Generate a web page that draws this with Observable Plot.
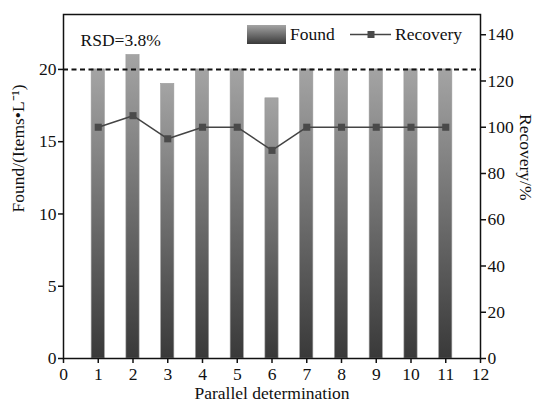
<!DOCTYPE html>
<html>
<head>
<meta charset="utf-8">
<script src="https://cdn.jsdelivr.net/npm/d3@7"></script>
<script src="https://cdn.jsdelivr.net/npm/@observablehq/plot@0.6"></script>
<style>
  html, body { margin: 0; padding: 0; background: #fff; }
  #chart svg { display: block; }
</style>
</head>
<body>
<div id="chart"></div>
<script>
const determinations = [1, 2, 3, 4, 5, 6, 7, 8, 9, 10, 11];
const found = [20, 21, 19, 20, 20, 18, 20, 20, 20, 20, 20];
const recovery = [100, 105, 95, 100, 100, 90, 100, 100, 100, 100, 100];
const xTicks = [0, 1, 2, 3, 4, 5, 6, 7, 8, 9, 10, 11, 12];
const leftTicks = [0, 5, 10, 15, 20];
const rightTicks = [0, 20, 40, 60, 80, 100, 120, 140];
const referenceLevel = [20];
const ratio = 6.25; // recovery % per Found unit on the shared vertical scale

const rows = determinations.map((d, i) => ({ d, found: found[i], recovery: recovery[i] }));
const half = 0.19;
const FS = 17.5;

const defs = () => {
  const g = d3.create("svg:defs");
  const lg = g.append("linearGradient").attr("id", "barGrad")
    .attr("x1", 0).attr("y1", 0).attr("x2", 0).attr("y2", 1);
  lg.append("stop").attr("offset", "0%").attr("stop-color", "#a4a4a4");
  lg.append("stop").attr("offset", "100%").attr("stop-color", "#393939");
  return g.node();
};

const legend = (index, scales, values, dimensions) => {
  const g = d3.create("svg:g").attr("font-family", "Liberation Serif").attr("font-size", FS)
    .attr("text-anchor", "start").attr("fill", "#111");
  const x0 = dimensions.marginLeft + 184, y0 = dimensions.marginTop + 11;
  g.append("rect").attr("x", x0).attr("y", y0).attr("width", 39).attr("height", 19)
    .attr("fill", "url(#barGrad)");
  g.append("text").attr("x", x0 + 43).attr("y", y0 + 15).text("Found");
  g.append("line").attr("x1", x0 + 103).attr("x2", x0 + 144).attr("y1", y0 + 9.5).attr("y2", y0 + 9.5)
    .attr("stroke", "#444").attr("stroke-width", 1.5);
  g.append("rect").attr("x", x0 + 120.5).attr("y", y0 + 6).attr("width", 7).attr("height", 7)
    .attr("fill", "#4a4a4a");
  g.append("text").attr("x", x0 + 148).attr("y", y0 + 15).text("Recovery");
  return g.node();
};

const chart = Plot.plot({
  width: 538,
  height: 401,
  marginLeft: 63,
  marginRight: 58,
  marginTop: 14,
  marginBottom: 43,
  style: { fontFamily: "Liberation Serif", fontSize: FS + "px", color: "#111", background: "#fff" },
  x: { domain: [0, 12] },
  y: { domain: [0, 23.8] },
  marks: [
    defs,
    Plot.rectY(rows, {
      x1: d => d.d - half, x2: d => d.d + half, y1: 0, y2: "found",
      fill: "url(#barGrad)", stroke: "#9a9a9a", strokeWidth: 0.6
    }),
    Plot.ruleY(referenceLevel, { stroke: "#111", strokeWidth: 2, strokeDasharray: "5,3.5" }),
    Plot.line(rows, { x: "d", y: d => d.recovery / ratio, stroke: "#444", strokeWidth: 1.5 }),
    Plot.dot(rows, { x: "d", y: d => d.recovery / ratio, symbol: "square", r: 4, fill: "#4a4a4a" }),
    Plot.axisX({ ticks: xTicks, tickSize: 5, tickPadding: 4, label: null, strokeWidth: 1.5, fontSize: FS }),
    Plot.axisY({ ticks: leftTicks, tickSize: 5, tickPadding: 2, label: null, strokeWidth: 1.5, fontSize: FS }),
    Plot.axisY({
      anchor: "right", ticks: rightTicks.map(v => v / ratio), tickSize: 5, tickPadding: 2,
      tickFormat: v => String(Math.round(v * ratio)), label: null, strokeWidth: 1.5, fontSize: FS
    }),
    Plot.frame({ stroke: "#111", strokeWidth: 1.5 }),
    Plot.text(["RSD=3.8%"], { frameAnchor: "top-left", dx: 17, dy: 19, textAnchor: "start", fontSize: FS }),
    Plot.text(["Found/(Items•L⁻¹)"], { frameAnchor: "left", dx: -45, dy: 26, rotate: -90, fontSize: FS }),
    Plot.text(["Recovery/%"], { frameAnchor: "right", dx: 45, dy: 14, rotate: 90, fontSize: FS }),
    Plot.text(["Parallel determination"], { frameAnchor: "bottom", dy: 40, fontSize: FS }),
    legend
  ]
});
document.getElementById("chart").append(chart);
</script>
</body>
</html>
